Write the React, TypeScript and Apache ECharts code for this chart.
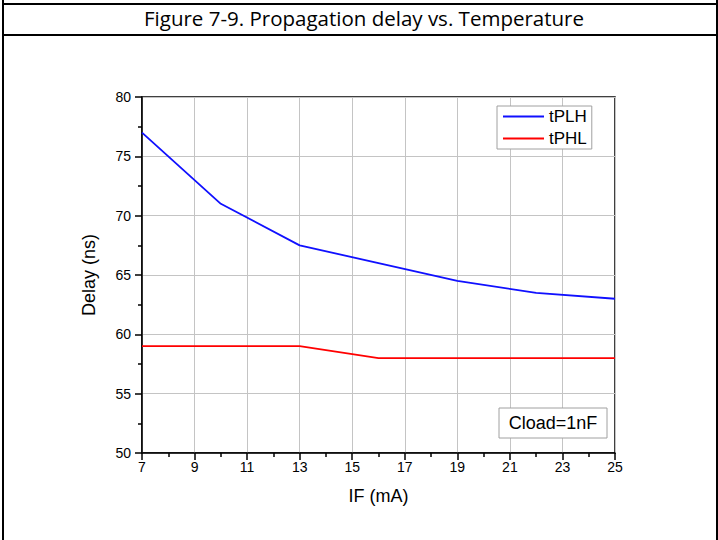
import React, { useEffect, useRef } from "react";
import * as echarts from "echarts";

const titleText = "Figure 7-9. Propagation delay vs. Temperature";
const xValues = [7, 10, 13, 16, 19, 22, 25];
const tPLH = [77, 71, 67.5, 66, 64.5, 63.5, 63];
const tPHL = [59, 59, 59, 58, 58, 58, 58];
const seriesNames = ["tPLH", "tPHL"];
const xAxisName = "IF (mA)";
const yAxisName = "Delay (ns)";
const noteText = "Cload=1nF";

const FONT = "'Liberation Sans', Arial, sans-serif";

export default function App() {
  const ref = useRef<HTMLDivElement>(null);
  useEffect(() => {
    if (!ref.current) return;
    const chart = echarts.init(ref.current, undefined, { renderer: "svg" });
    const toPairs = (ys: number[]) => xValues.map((x, i) => [x, ys[i]]);
    chart.setOption({
      animation: false,
      backgroundColor: "#fff",
      textStyle: { fontFamily: FONT },
      grid: {
        left: 142,
        right: 103,
        top: 97,
        bottom: 87,
        show: true,
        borderColor: "#000",
        borderWidth: 1.5,
        containLabel: false,
      },
      legend: {
        orient: "vertical",
        left: 497,
        top: 106,
        padding: [1, 5, 1, 5],
        itemGap: 3,
        itemWidth: 41,
        itemHeight: 19,
        itemTextGap: 6,
        borderColor: "#a0a0a0",
        borderWidth: 1,
        backgroundColor: "#fff",
        itemStyle: { opacity: 0 },
        data: seriesNames,
        textStyle: { fontSize: 17, color: "#000", fontFamily: FONT, lineHeight: 19 },
      },
      xAxis: {
        type: "value",
        min: 7,
        max: 25,
        interval: 2,
        name: xAxisName,
        nameLocation: "middle",
        nameGap: 34,
        nameTextStyle: { fontSize: 18, color: "#000", fontFamily: FONT },
        axisLine: { show: true, lineStyle: { color: "#000", width: 1.5 } },
        axisTick: { show: true, inside: false, length: 7, lineStyle: { color: "#000", width: 1.5 } },
        minorTick: { show: true, splitNumber: 2, length: 4, lineStyle: { color: "#000", width: 1.5 } },
        axisLabel: { fontSize: 14, color: "#000", margin: 7, fontFamily: FONT },
        splitLine: { show: true, lineStyle: { color: "#c4c4c4", width: 1 } },
      },
      yAxis: {
        type: "value",
        min: 50,
        max: 80,
        interval: 5,
        name: yAxisName,
        nameLocation: "middle",
        nameRotate: 90,
        nameGap: 44,
        nameTextStyle: { fontSize: 18, color: "#000", fontFamily: FONT },
        axisLine: { show: true, lineStyle: { color: "#000", width: 1.5 } },
        axisTick: { show: true, inside: false, length: 7, lineStyle: { color: "#000", width: 1.5 } },
        minorTick: { show: true, splitNumber: 2, length: 4, lineStyle: { color: "#000", width: 1.5 } },
        axisLabel: { fontSize: 14, color: "#000", margin: 11, fontFamily: FONT },
        splitLine: { show: true, lineStyle: { color: "#c4c4c4", width: 1 } },
      },
      series: [
        {
          name: seriesNames[0],
          type: "line",
          data: toPairs(tPLH),
          symbol: "none",
          color: "#1010ff",
          lineStyle: { color: "#1010ff", width: 1.8 },
        },
        {
          name: seriesNames[1],
          type: "line",
          data: toPairs(tPHL),
          symbol: "none",
          color: "#ff0000",
          lineStyle: { color: "#ff0000", width: 1.8 },
        },
      ],
      graphic: [
        { type: "rect", shape: { x: 2, y: 0, width: 2, height: 540 }, style: { fill: "#000" }, silent: true },
        { type: "rect", shape: { x: 716, y: 0, width: 2, height: 540 }, style: { fill: "#000" }, silent: true },
        { type: "rect", shape: { x: 2, y: 3, width: 716, height: 2 }, style: { fill: "#000" }, silent: true },
        { type: "rect", shape: { x: 2, y: 34, width: 716, height: 2 }, style: { fill: "#000" }, silent: true },
        {
          type: "text",
          x: 364,
          y: 18,
          style: {
            text: titleText,
            fontSize: 20.5,
            fontFamily: "'Open Sans', 'Noto Sans', sans-serif",
            fill: "#000",
            align: "center",
            verticalAlign: "middle",
          },
          silent: true,
        },
        {
          type: "rect",
          shape: { x: 499, y: 408, width: 108, height: 30 },
          style: { fill: "#fff", stroke: "#a0a0a0", lineWidth: 1 },
          z: 100,
          silent: true,
        },
        {
          type: "text",
          x: 553,
          y: 423,
          z: 101,
          style: {
            text: noteText,
            fontSize: 18,
            fontFamily: FONT,
            fill: "#000",
            align: "center",
            verticalAlign: "middle",
          },
          silent: true,
        },
      ],
    });
    return () => chart.dispose();
  }, []);
  return (
    <div
      ref={ref}
      style={{ position: "absolute", left: 0, top: 0, width: 718, height: 540, background: "#fff" }}
    />
  );
}
